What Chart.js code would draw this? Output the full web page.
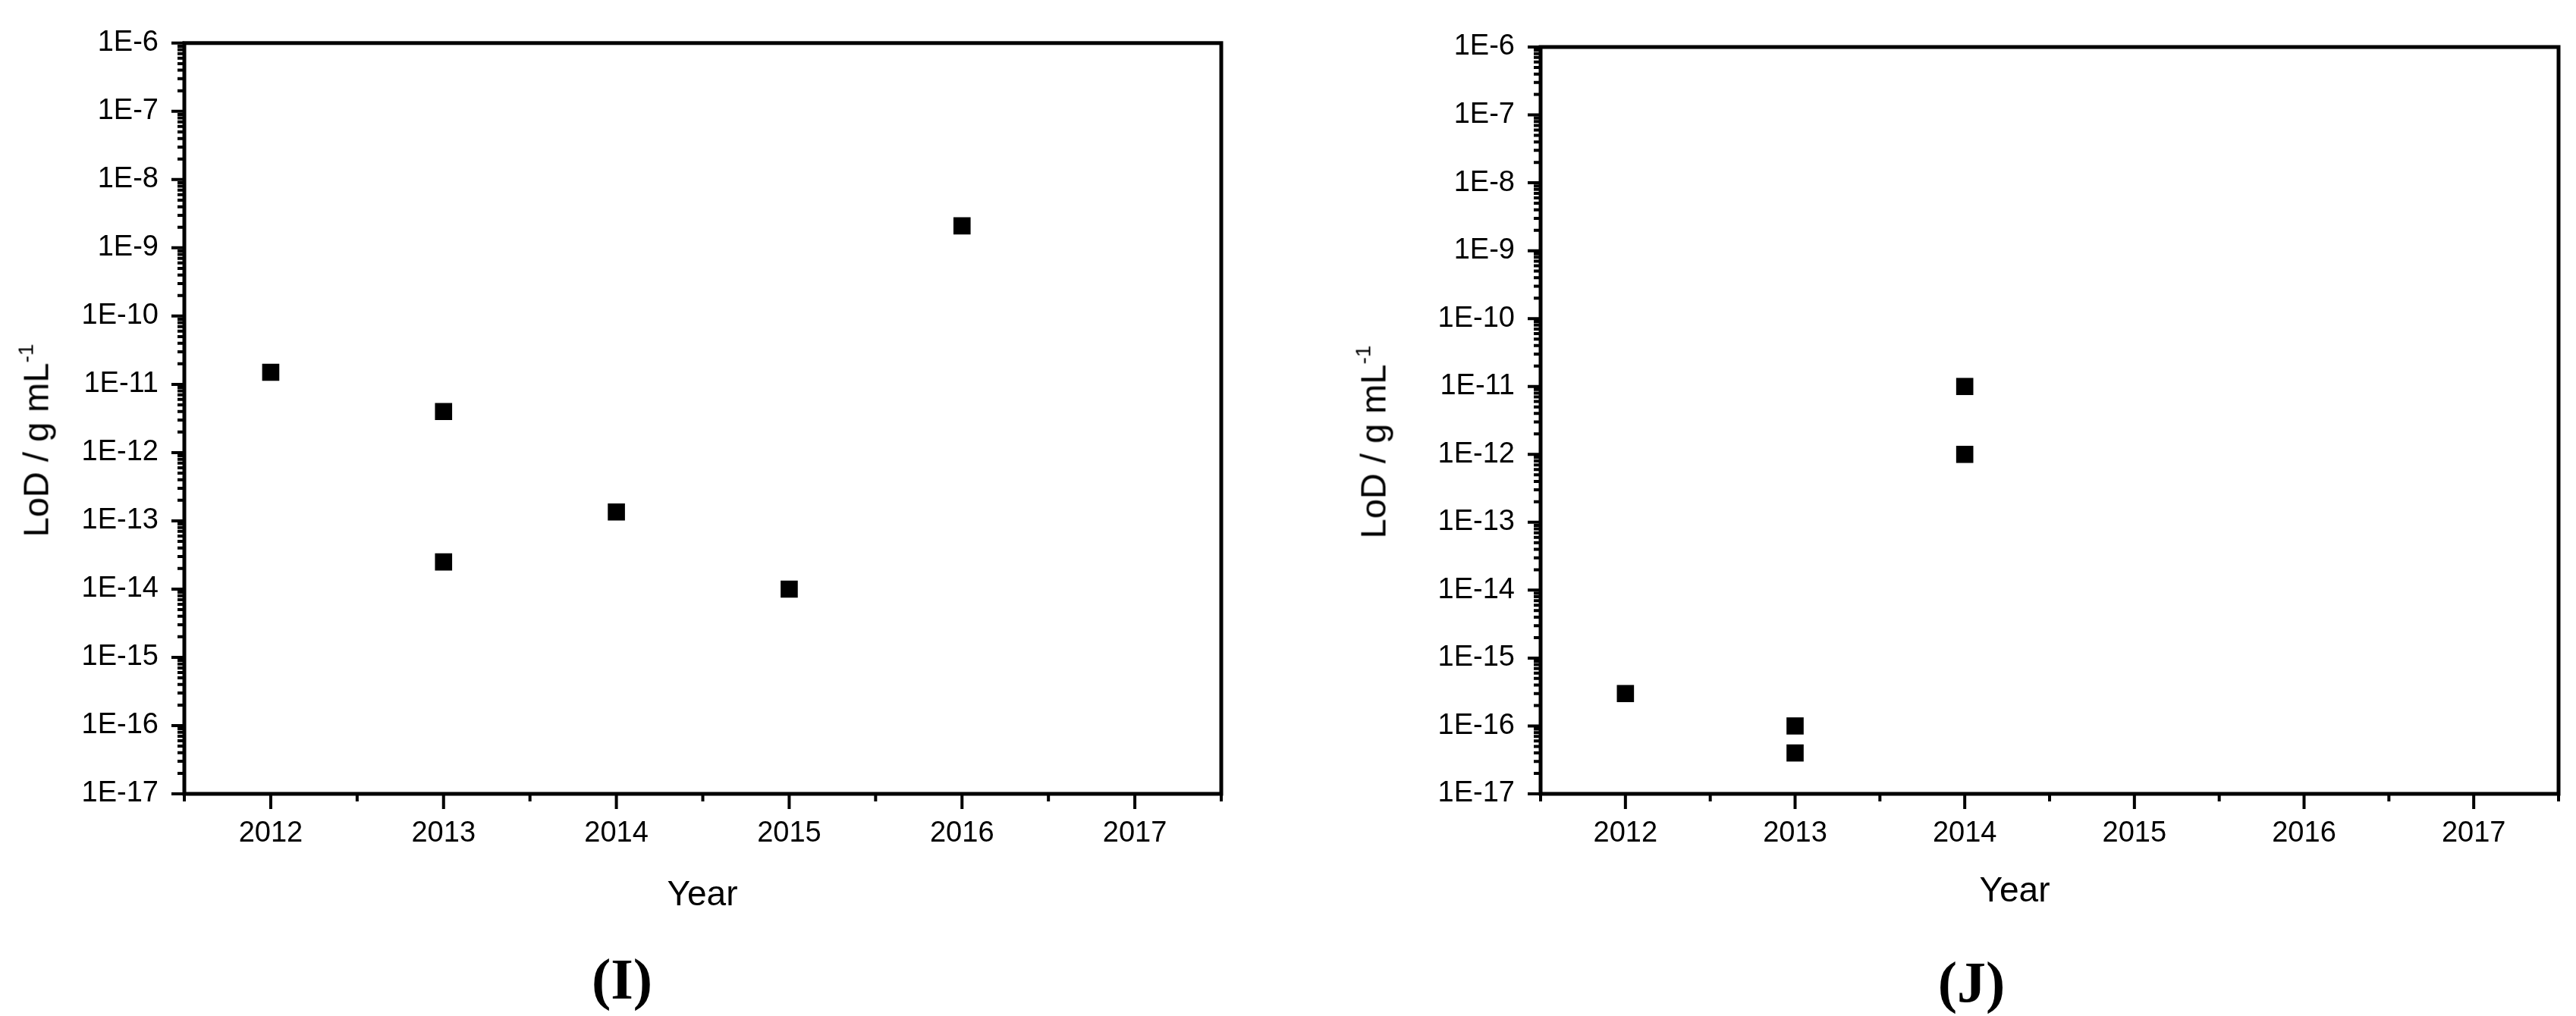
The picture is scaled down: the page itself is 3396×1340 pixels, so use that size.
<!DOCTYPE html>
<html>
<head>
<meta charset="utf-8">
<script src="https://cdn.jsdelivr.net/npm/chart.js@4.4.0/dist/chart.umd.min.js"></script>
<style>
  html, body { margin: 0; padding: 0; background: #fff; }
  body { width: 3396px; height: 1340px; position: relative; overflow: hidden; font-family: "Liberation Sans", Arial, sans-serif; }
  canvas { position: absolute; top: 0; }
  #chartI { left: 0; }
  #chartJ { left: 1750px; }
  .lbl { position: absolute; transform: translate(-50%, -50%); line-height: 1; white-space: nowrap; color: #000; }
  .ytitle { font-size: 47px; transform: translate(-50%, -50%) rotate(-90deg); }
  .ytitle sup { font-size: 28px; vertical-align: 0.7em; line-height: 0; }
  .xtitle { font-size: 46px; }
  .panel { font-family: "Liberation Serif", "Times New Roman", serif; font-weight: bold; font-size: 76px; }
</style>
</head>
<body>
<canvas id="chartI" width="1750" height="1340"></canvas>
<canvas id="chartJ" width="1646" height="1340"></canvas>

<div class="lbl ytitle" style="left:47px; top:581px;">LoD / g mL<sup>-1</sup></div>
<div class="lbl xtitle" style="left:926px; top:1178px;">Year</div>
<div class="lbl panel" style="left:820px; top:1291px;">(I)</div>

<div class="lbl ytitle" style="left:1810px; top:583px;">LoD / g mL<sup>-1</sup></div>
<div class="lbl xtitle" style="left:2656px; top:1173px;">Year</div>
<div class="lbl panel" style="left:2599px; top:1295px;">(J)</div>

<script>
// panel I
const yearsI = [2012, 2013, 2013, 2014, 2015, 2016];
const lodI = [1.5e-11, 4e-12, 2.5e-14, 1.35e-13, 1e-14, 2.1e-9];

// panel J
const yearsJ = [2012, 2013, 2013, 2014, 2014];
const lodJ = [3e-16, 1e-16, 4e-17, 1e-11, 1e-12];

// axis ticks
const yearTicks = [2012, 2013, 2014, 2015, 2016, 2017];
const decadeExps = [-17, -16, -15, -14, -13, -12, -11, -10, -9, -8, -7, -6];

Chart.defaults.font.family = '"Liberation Sans", Arial, sans-serif';
Chart.defaults.color = '#000';

// box + outward major/minor ticks
const frame = {
    id: 'frame',
    afterDraw(chart) {
        const ctx = chart.ctx;
        const a = chart.chartArea;
        const x = chart.scales.x;
        const y = chart.scales.y;
        ctx.save();
        ctx.strokeStyle = '#000';
        ctx.lineWidth = 4;
        ctx.beginPath();
        decadeExps.forEach((e, i) => {
            let py = y.getPixelForValue(Math.pow(10, e));
            ctx.moveTo(a.left - 17, py);
            ctx.lineTo(a.left, py);
            if (i < decadeExps.length - 1) {
                for (let m = 2; m <= 9; m++) {
                    py = y.getPixelForValue(m * Math.pow(10, e));
                    ctx.moveTo(a.left - 9, py);
                    ctx.lineTo(a.left, py);
                }
            }
        });
        yearTicks.forEach(v => {
            const px = x.getPixelForValue(v);
            ctx.moveTo(px, a.bottom);
            ctx.lineTo(px, a.bottom + 20);
        });
        const halfTicks = yearTicks.map(v => v - 0.5).concat([yearTicks[yearTicks.length - 1] + 0.5]);
        halfTicks.forEach(v => {
            const px = x.getPixelForValue(v);
            ctx.moveTo(px, a.bottom);
            ctx.lineTo(px, a.bottom + 10);
        });
        ctx.stroke();
        ctx.lineWidth = 5;
        ctx.strokeRect(a.left, a.top, a.right - a.left, a.bottom - a.top);
        ctx.restore();
    }
};

function makeChart(canvasId, years, lods, area) {
    const points = years.map((yr, i) => ({ x: yr, y: lods[i] }));
    return new Chart(document.getElementById(canvasId), {
        type: 'scatter',
        data: {
            datasets: [{
                data: points,
                pointStyle: 'rect',
                pointRadius: 16,
                pointHoverRadius: 16,
                backgroundColor: '#000',
                borderColor: '#000',
                borderWidth: 0
            }]
        },
        options: {
            responsive: false,
            animation: false,
            devicePixelRatio: 1,
            layout: { padding: { left: 0, top: area.top, right: area.padRight, bottom: 0 } },
            plugins: { legend: { display: false }, tooltip: { enabled: false } },
            scales: {
                x: {
                    type: 'linear',
                    min: 2011.5,
                    max: 2017.5,
                    grid: { display: false, drawTicks: false },
                    border: { display: false },
                    ticks: { padding: 30, autoSkip: false, maxRotation: 0, font: { size: 38 }, color: '#000', callback: v => String(v) },
                    afterBuildTicks: s => { s.ticks = yearTicks.map(v => ({ value: v })); },
                    afterFit: s => { s.height = 1340 - area.bottom; }
                },
                y: {
                    type: 'logarithmic',
                    min: 1e-17,
                    max: 1e-6,
                    grid: { display: false, drawTicks: false },
                    border: { display: false },
                    ticks: { padding: 34, autoSkip: false, font: { size: 38 }, color: '#000', callback: v => '1E' + Math.round(Math.log10(v)) },
                    afterBuildTicks: s => { s.ticks = decadeExps.map(e => ({ value: Math.pow(10, e), major: true })); },
                    afterFit: s => { s.width = area.left; }
                }
            }
        },
        plugins: [frame]
    });
}

makeChart('chartI', yearsI, lodI, { left: 243, top: 41, padRight: 1750 - 1610, bottom: 1047 });
makeChart('chartJ', yearsJ, lodJ, { left: 2031 - 1750, top: 62, padRight: 3396 - 3373, bottom: 1047 });
</script>
</body>
</html>
